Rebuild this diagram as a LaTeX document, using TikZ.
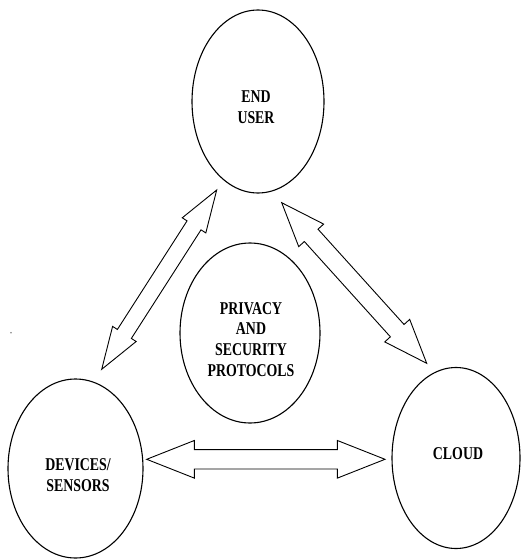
\documentclass[tikz,border=0pt]{standalone}
\usepackage{fontspec}
\setmainfont{Liberation Serif}
\usetikzlibrary{shapes.geometric,calc}

\tikzset{
  blob/.style={draw=black, line width=1.1pt, ellipse, inner sep=0pt},
  caption/.style={inner sep=0pt, font=\fontsize{18}{20.7}\selectfont\bfseries},
  blockarrow/.style={draw=black, line width=0.9pt, fill=white, line join=miter}
}

% hollow double-headed block arrow between two named tips
% #1,#2 tips, #3 head length, #4 half head width, #5 half shaft width
\newcommand{\dblarrow}[5]{%
  \coordinate (#1-h) at ($(#1)!#3!(#2)$);
  \coordinate (#2-h) at ($(#2)!#3!(#1)$);
  \draw[blockarrow] (#1)
    -- ($(#1-h)!#4!90:(#2)$) -- ($(#1-h)!#5!90:(#2)$)
    -- ($(#2-h)!#5!-90:(#1)$) -- ($(#2-h)!#4!-90:(#1)$)
    -- (#2)
    -- ($(#2-h)!#4!90:(#1)$) -- ($(#2-h)!#5!90:(#1)$)
    -- ($(#1-h)!#5!-90:(#2)$) -- ($(#1-h)!#4!-90:(#2)$)
    -- cycle;
}
\newcommand{\cond}[1]{\scalebox{0.77}[1]{\begin{tabular}{@{}c@{}}#1\end{tabular}}}

\begin{document}
\begin{tikzpicture}[x=1pt, y=-1pt]
  \useasboundingbox (0,0) rectangle (521,559);

  % the four bubbles
  \node[blob, minimum width=132pt, minimum height=183pt] (user) at (258,101.5) {};
  \node[blob, minimum width=140pt, minimum height=180pt] (privacy) at (250,333) {};
  \node[blob, minimum width=135pt, minimum height=179pt] (devices) at (75.5,468.5) {};
  \node[blob, minimum width=128pt, minimum height=181pt] (cloud) at (456,458) {};

  % their captions
  \node[caption] (userlbl) at (256,109) {\cond{END\\USER}};
  \node[caption] (privlbl) at (251,341) {\cond{PRIVACY\\AND\\SECURITY\\PROTOCOLS}};
  \node[caption] (devlbl) at (78,477) {\cond{DEVICES/\\SENSORS}};
  \node[caption] (cloudlbl) at (458,455) {\cond{CLOUD}};

  % arrow tips
  \coordinate (lu) at (216.7,190);
  \coordinate (ld) at (101.7,369.3);
  \coordinate (ru) at (281.7,202.7);
  \coordinate (rc) at (426.7,363.3);
  \coordinate (bd) at (146.7,459.3);
  \coordinate (bc) at (385,459.3);

  % two-way links
  \dblarrow{lu}{ld}{42pt}{14pt}{8.3pt}
  \dblarrow{ru}{rc}{44pt}{16.8pt}{9.2pt}
  \dblarrow{bd}{bc}{47.6pt}{18.8pt}{9.7pt}

  % stray speck
  \fill[gray] (11,332.7) circle (0.9);
\end{tikzpicture}
\end{document}
